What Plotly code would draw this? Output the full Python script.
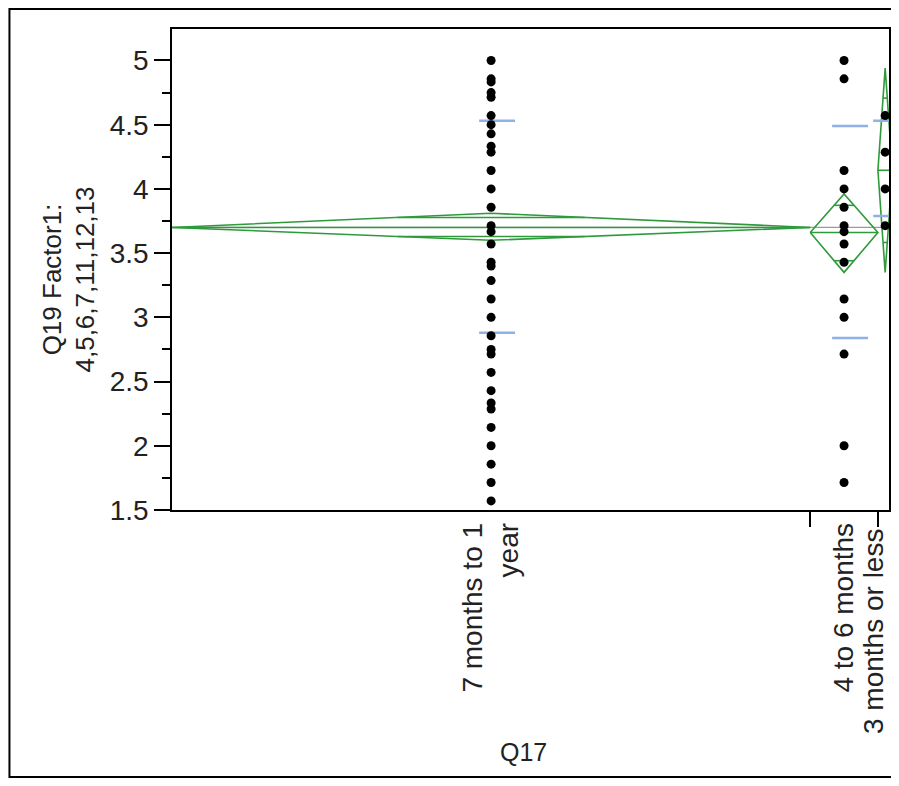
import math
import plotly.graph_objects as go

# ---------------- data ----------------
groups = ["7 months to 1<br>year", "4 to 6 months", "3 months or less"]
group_counts = [132, 14, 3]

g1_values = [5.0, 4.857, 4.833, 4.75, 4.714, 4.571, 4.5, 4.429, 4.333, 4.286,
             4.143, 4.0, 3.857, 3.714, 3.667, 3.571, 3.429, 3.4, 3.286, 3.143,
             3.0, 2.857, 2.75, 2.714, 2.571, 2.429, 2.333, 2.286, 2.143, 2.0,
             1.857, 1.714, 1.571]
g2_values = [5.0, 4.857, 4.143, 4.0, 3.857, 3.714, 3.667, 3.571, 3.429, 3.143,
             3.0, 2.714, 2.0, 1.714]
g3_values = [4.571, 4.286, 4.0, 3.714]

group_means = [3.70, 3.66, 4.145]
ci_upper = [3.81, 3.96, 4.94]
ci_lower = [3.60, 3.35, 3.35]
sd_upper = [4.53, 4.49, 4.53]
sd_lower = [2.88, 2.84, 3.79]
grand_mean = 3.70

y_ticks = [1.5, 2, 2.5, 3, 3.5, 4, 4.5, 5]

# ---------------- layout helpers ----------------
# page body adds an 8px margin on each side, so the figure is sized to fit exactly
FIG_W, FIG_H = 883, 770
ML, MT = 164, 21
PLOT_W, PLOT_H = 719.0, 481.0
MR = FIG_W - ML - int(PLOT_W)
MB = FIG_H - MT - int(PLOT_H)

UNIT = 640.0 / group_counts[0]       # px per count unit
X_MAX = PLOT_W / UNIT
Y_RANGE = [1.5, 5.245]

bounds = [0]
for c in group_counts:
    bounds.append(bounds[-1] + c)
centers = [(bounds[i] + bounds[i + 1]) / 2 for i in range(len(group_counts))]

GREEN = "#2e9a3c"
BLUE = "#8fb1e8"

fig = go.Figure()

# grand mean line
fig.add_trace(go.Scatter(x=[0, X_MAX], y=[grand_mean, grand_mean], mode="lines",
                         line=dict(color="#9a9a9a", width=1.2), hoverinfo="skip",
                         showlegend=False))

# mean diamonds with overlap marks
for i in range(len(groups)):
    L, R, C = bounds[i], bounds[i + 1], centers[i]
    m, u, l = group_means[i], ci_upper[i], ci_lower[i]
    fig.add_trace(go.Scatter(x=[L, C, R, C, L], y=[m, u, m, l, m], mode="lines",
                             line=dict(color=GREEN, width=1.6), hoverinfo="skip",
                             showlegend=False))
    fig.add_trace(go.Scatter(x=[L, R], y=[m, m], mode="lines",
                             line=dict(color=GREEN, width=1.6), hoverinfo="skip",
                             showlegend=False))
    hw = (R - L) / 2 * (1 - 1 / math.sqrt(2))
    for yy in (m + (u - m) / math.sqrt(2), m - (m - l) / math.sqrt(2)):
        fig.add_trace(go.Scatter(x=[C - hw, C + hw], y=[yy, yy], mode="lines",
                                 line=dict(color=GREEN, width=1.6), hoverinfo="skip",
                                 showlegend=False))

# std dev lines
for i in range(len(groups)):
    C = centers[i]
    x0, x1 = C - 12 / UNIT, C + 24 / UNIT
    for yy in (sd_upper[i], sd_lower[i]):
        fig.add_trace(go.Scatter(x=[x0, x1], y=[yy, yy], mode="lines",
                                 line=dict(color=BLUE, width=2.5), hoverinfo="skip",
                                 showlegend=False))

# points
for i, vals in enumerate([g1_values, g2_values, g3_values]):
    fig.add_trace(go.Scatter(x=[centers[i]] * len(vals), y=vals, mode="markers",
                             marker=dict(color="black", size=9),
                             showlegend=False))

# invisible trace for boundary-tick axis
fig.add_trace(go.Scatter(x=[0], y=[Y_RANGE[0]], xaxis="x2", mode="markers",
                         marker=dict(opacity=0), hoverinfo="skip", showlegend=False))

FAM = "Liberation Sans, Arial, sans-serif"
COL = "#222222"

fig.update_layout(
    width=FIG_W, height=FIG_H,
    margin=dict(l=ML, r=MR, t=MT, b=MB, pad=0),
    paper_bgcolor="white", plot_bgcolor="white",
    font=dict(family=FAM, size=26, color=COL),
    xaxis=dict(range=[0, X_MAX], tickvals=centers[:2], ticktext=groups[:2],
               tickangle=-90, ticks="", showgrid=False, zeroline=False,
               showline=True, mirror=True, linecolor="black", linewidth=1.5,
               tickfont=dict(family=FAM, size=28, color=COL)),
    xaxis2=dict(range=[0, X_MAX], overlaying="x", anchor="y", side="bottom",
                tickvals=bounds[1:-1], ticks="outside", ticklen=16, tickwidth=1.5,
                tickcolor="black", showticklabels=False, showgrid=False,
                zeroline=False, showline=False),
    yaxis=dict(range=Y_RANGE, tickvals=y_ticks, ticktext=[f"{v:g}" for v in y_ticks],
               ticks="outside", ticklen=16, tickwidth=1.5, tickcolor="black",
               minor=dict(tick0=1.5, dtick=0.25, ticks="outside", ticklen=8,
                          tickwidth=1.5, tickcolor="black"),
               showgrid=False, zeroline=False, showline=True, mirror=True,
               linecolor="black", linewidth=1.5,
               tickfont=dict(family=FAM, size=28, color=COL)),
    annotations=[
        dict(text="Q19 Factor1:<br>4,5,6,7,11,12,13", textangle=-90, xref="paper",
             yref="paper", x=0, y=0.5, xanchor="center", yanchor="middle",
             xshift=-104, yshift=-10, showarrow=False,
             font=dict(family=FAM, size=26, color=COL)),
        dict(text="Q17", xref="paper", yref="paper", x=0.5, y=0, xanchor="center",
             yanchor="middle", xshift=-7, yshift=-242, showarrow=False,
             font=dict(family=FAM, size=25, color=COL)),
        # last category label, kept inside the page edge
        dict(text=groups[2], textangle=-90, xref="paper", yref="paper", x=1, y=0,
             xanchor="right", yanchor="top", yshift=-18, xshift=1, borderpad=0,
             showarrow=False, font=dict(family=FAM, size=28, color=COL)),
    ],
    shapes=[
        dict(type="rect", xref="paper", yref="paper",
             x0=(1 - ML) / PLOT_W, x1=(FIG_W + 20 - ML) / PLOT_W,
             y0=-(MB - 1) / PLOT_H, y1=(PLOT_H + MT - 1) / PLOT_H,
             line=dict(color="black", width=2), layer="below"),
    ],
)

fig.write_html("out.html")
